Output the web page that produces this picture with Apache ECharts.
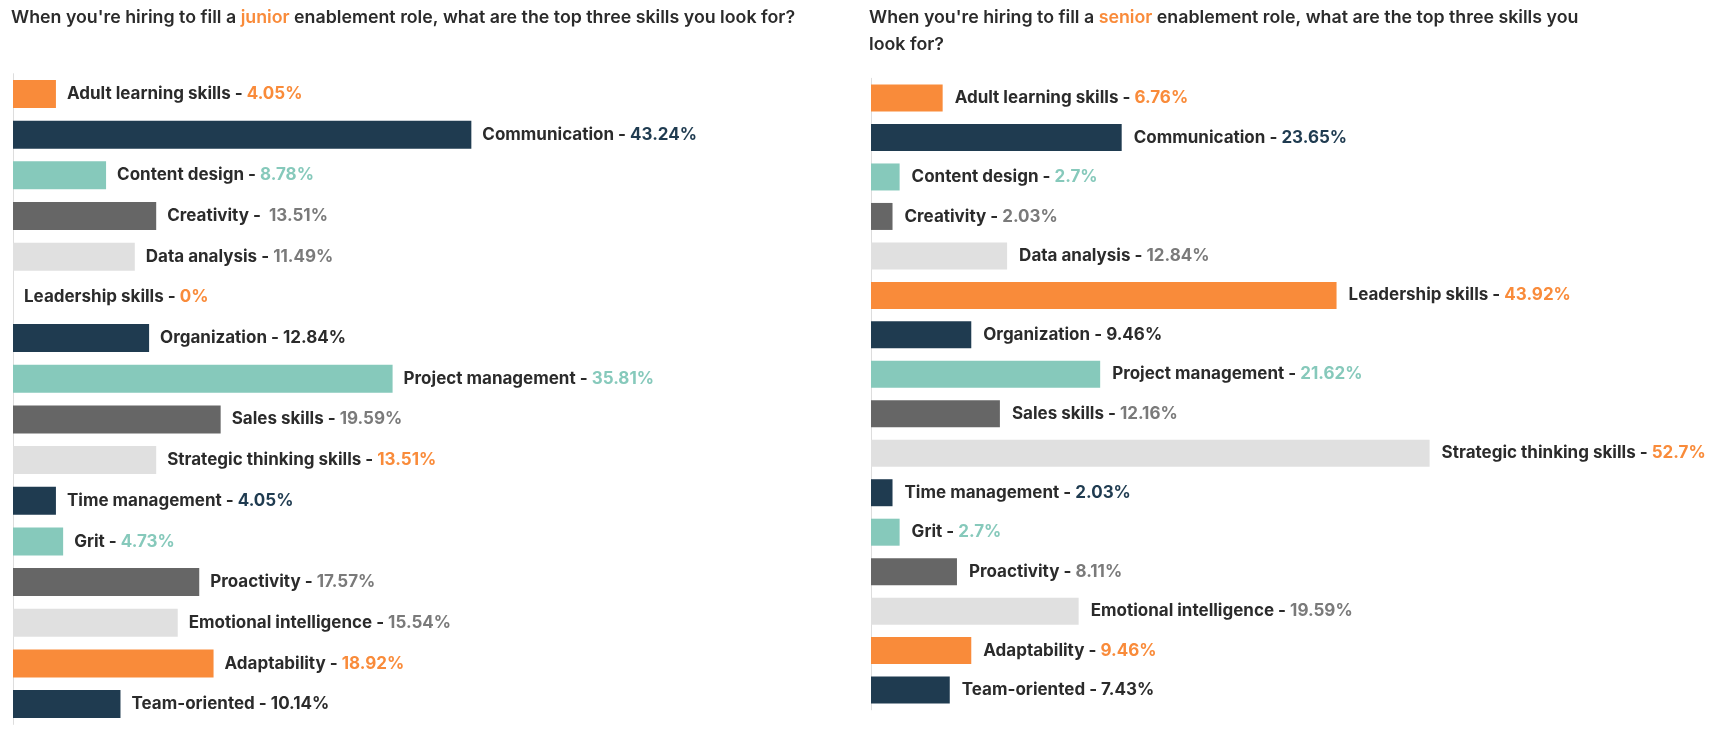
<!DOCTYPE html>
<html>
<head>
<meta charset="utf-8">
<script src="https://cdn.jsdelivr.net/npm/echarts@6/dist/echarts.min.js"></script>
<style>
html,body{margin:0;padding:0;background:#fff;}
#c{width:1721px;height:741px;}
</style>
</head>
<body>
<div id="c"></div>
<script>
// ---- data ----
const categories = [
  'Adult learning skills','Communication','Content design','Creativity','Data analysis',
  'Leadership skills','Organization','Project management','Sales skills','Strategic thinking skills',
  'Time management','Grit','Proactivity','Emotional intelligence','Adaptability','Team-oriented'
];
const juniorValues = [4.05,43.24,8.78,13.51,11.49,0,12.84,35.81,19.59,13.51,4.05,4.73,17.57,15.54,18.92,10.14];
const seniorValues = [6.76,23.65,2.7,2.03,12.84,43.92,9.46,21.62,12.16,52.7,2.03,2.7,8.11,19.59,9.46,7.43];
const juniorTitleParts = ["When you're hiring to fill a ", 'junior', ' enablement role, what are the top three skills you look for?'];
const seniorTitleParts = ["When you're hiring to fill a ", 'senior', ' enablement role, what are the top three skills you\nlook for?'];

// ---- styles ----
const ORANGE='#f98b3a', NAVY='#1f3b50', TEAL='#86c9bb', GREY='#666666', LIGHT='#e0e0e0', DARK='#2b2b2b', VGREY='#7a7a7a';
const barColors = [ORANGE,NAVY,TEAL,GREY,LIGHT,ORANGE,NAVY,TEAL,GREY,LIGHT,NAVY,TEAL,GREY,LIGHT,ORANGE,NAVY];
const valueKeys = ['o','n','t','g','g','o','d','t','g','o','n','t','g','g','o','d'];
const FONT = 'Inter, "Noto Sans", sans-serif';
const LS = 17, LW = 700, TS = 17.8;

const rich = {
  a:{color:DARK,fontSize:LS,fontWeight:LW,fontFamily:FONT},
  o:{color:ORANGE,fontSize:LS,fontWeight:LW,fontFamily:FONT},
  n:{color:NAVY,fontSize:LS,fontWeight:LW,fontFamily:FONT},
  t:{color:TEAL,fontSize:LS,fontWeight:LW,fontFamily:FONT},
  g:{color:VGREY,fontSize:LS,fontWeight:LW,fontFamily:FONT},
  d:{color:DARK,fontSize:LS,fontWeight:LW,fontFamily:FONT}
};
const titleRich = {
  a:{color:DARK,fontSize:TS,fontWeight:600,fontFamily:FONT,lineHeight:27},
  o:{color:ORANGE,fontSize:TS,fontWeight:600,fontFamily:FONT,lineHeight:27}
};

function titleText(parts){
  const segs = [];
  segs.push(parts[0].split('\n').map(s=>s?'{a|'+s+'}':'').join('\n'));
  segs.push('{o|'+parts[1]+'}');
  segs.push(parts[2].split('\n').map(s=>s?'{a|'+s+'}':'').join('\n'));
  return segs.join('');
}

function labelFmt(values, p){
  const i = p.dataIndex;
  const sep = categories[i]==='Creativity' && values===juniorValues ? ' -  ' : ' - ';
  return '{a|'+categories[i]+sep+'}{'+valueKeys[i]+'|'+values[i]+'%}';
}

function seriesFor(values, idx, bw, dist){
  return {
    type:'bar', xAxisIndex:idx, yAxisIndex:idx, barWidth:bw,
    data: values.map((v,i)=>({value:v,itemStyle:{color:barColors[i]}})),
    label:{show:true,position:'right',distance:dist,formatter:p=>labelFmt(values,p),rich:rich},
    emphasis:{disabled:true}, silent:true, animation:false
  };
}

const chart = echarts.init(document.getElementById('c'));
chart.setOption({
  backgroundColor:'#fff',
  animation:false,
  title:[
    {text:titleText(juniorTitleParts),left:11,top:4,padding:[0,0,0,0],textStyle:{rich:titleRich}},
    {text:titleText(seniorTitleParts),left:869,top:4,padding:[0,0,0,0],textStyle:{rich:titleRich}}
  ],
  grid:[
    {left:13,top:73.7,width:636,height:650.7},
    {left:871,top:78.3,width:636,height:631.5}
  ],
  xAxis:[
    {gridIndex:0,type:'value',min:0,max:60,show:false},
    {gridIndex:1,type:'value',min:0,max:60,show:false}
  ],
  yAxis:[
    {gridIndex:0,type:'category',inverse:true,data:categories,axisTick:{show:false},axisLabel:{show:false},axisLine:{show:true,lineStyle:{color:'#dddddd',width:1}}},
    {gridIndex:1,type:'category',inverse:true,data:categories,axisTick:{show:false},axisLabel:{show:false},axisLine:{show:true,lineStyle:{color:'#dddddd',width:1}}}
  ],
  series:[seriesFor(juniorValues,0,28,11),seriesFor(seniorValues,1,27,12)]
});
</script>
</body>
</html>
